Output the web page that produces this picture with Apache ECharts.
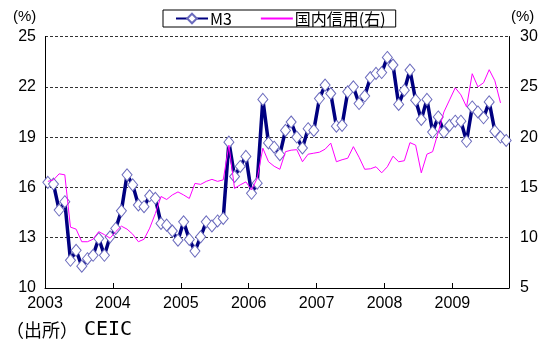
<!DOCTYPE html>
<html><head><meta charset="utf-8">
<script src="https://cdn.jsdelivr.net/npm/echarts@6/dist/echarts.min.js"></script>
<style>html,body{margin:0;padding:0;background:#fff}#c{width:547px;height:347px}</style>
</head><body><div id="c"></div>
<script>
// Monthly data, Jan 2003 onward
const yearLabels = ['2003','2004','2005','2006','2007','2008','2009'];
// M3 growth (%, left axis), Jan 2003 - Oct 2009
const m3 = [
  16.3,16.2,14.65,15.15,11.65,12.25,11.3,11.75,11.95,12.95,11.95,13.05,
  13.55,14.6,16.75,16.15,14.95,14.85,15.5,15.35,13.85,13.75,13.4,12.85,
  13.95,12.9,12.2,13.05,13.95,13.7,14.0,14.15,18.7,16.65,17.25,17.85,
  15.65,16.25,21.25,18.65,18.4,17.95,19.4,19.9,19.0,18.35,19.5,19.4,
  21.3,22.1,21.6,19.65,19.7,21.7,22.0,21.0,21.45,22.55,22.8,22.85,
  23.75,23.3,20.95,21.8,23.0,21.2,20.05,21.25,19.3,20.2,19.3,19.7,
  19.95,19.95,18.75,20.8,20.5,20.15,21.1,19.35,19.0,18.8
];
// Domestic credit growth (%, right axis), Jan 2003 - Sep 2009
const credit = [
  15.6,15.75,16.35,16.25,11.05,10.85,9.6,9.6,9.85,10.6,10.3,9.95,
  10.6,11.15,10.85,10.35,9.6,9.85,10.95,12.4,14.1,13.8,14.25,14.55,
  14.25,13.9,15.4,15.3,15.6,15.8,15.6,15.75,19.2,14.9,15.25,15.55,
  14.75,15.9,18.9,17.55,17.1,16.8,18.55,18.7,18.75,17.55,18.3,18.4,
  18.5,18.8,19.4,17.55,17.75,17.9,19.05,18.0,16.8,16.85,17.05,16.45,
  17.05,18.1,17.55,17.65,19.45,19.2,16.45,18.3,18.55,20.5,22.5,23.7,
  24.9,24.2,23.0,26.3,25.0,25.4,26.7,25.6,23.4
];
const seriesNames = ['M3','国内信用(右)'];
const totalMonths = m3.length;

const numFont = "'Liberation Sans Narrow','Arial Narrow',sans-serif";
const chart = echarts.init(document.getElementById('c'), null, {renderer:'canvas'});
chart.setOption({
  animation:false,
  backgroundColor:'#fff',
  grid:{left:45,right:38,top:36.5,bottom:59},
  legend:{
    left:163, top:10,
    orient:'horizontal',
    data:[{name:seriesNames[0]}, {name:seriesNames[1], itemStyle:{opacity:0}}],
    borderColor:'#000', borderWidth:1,
    padding:[0,10,0,12],
    itemGap:28, itemWidth:32, itemHeight:12,
    textStyle:{fontSize:16, lineHeight:17, color:'#000', fontFamily:"'Noto Sans CJK JP',sans-serif", padding:[0,0,0,-3]}
  },
  xAxis:{
    type:'value', min:0, max:totalMonths, interval:12,
    axisLine:{lineStyle:{color:'#000',width:1}},
    axisTick:{inside:true,length:5,lineStyle:{color:'#000'}},
    splitLine:{show:false},
    axisLabel:{
      formatter:function(v){return (v%12===0 && v/12<yearLabels.length)?yearLabels[v/12]:'';},
      fontSize:16, fontFamily:numFont, color:'#000', margin:8
    }
  },
  yAxis:[
    {type:'value', min:10, max:25, interval:3, position:'left',
     axisLine:{show:true,lineStyle:{color:'#000'}}, axisTick:{show:false},
     splitLine:{show:true,lineStyle:{type:[3,2],color:'#333',width:1}},
     axisLabel:{fontSize:16, fontFamily:numFont, color:'#000', margin:9}},
    {type:'value', min:5, max:30, interval:5, position:'right',
     axisLine:{show:true,lineStyle:{color:'#000'}}, axisTick:{show:false},
     splitLine:{show:false},
     axisLabel:{fontSize:16, fontFamily:numFont, color:'#000', margin:11}}
  ],
  series:[
    {name:seriesNames[0], type:'line', yAxisIndex:0,
     data:m3.map(function(v,i){return [i+0.5,v];}),
     symbol:'diamond', symbolSize:[10,12], showAllSymbol:true,
     itemStyle:{color:'#fff', borderColor:'#6b6bbd', borderWidth:1},
     lineStyle:{color:'#000080', width:3.5}, z:2},
    {name:seriesNames[1], type:'line', yAxisIndex:1,
     data:credit.map(function(v,i){return [i+0.5,v];}),
     symbol:'none',
     itemStyle:{color:'#ff00ff'},
     lineStyle:{color:'#ff00ff', width:1}, z:3}
  ],
  graphic:[
    {type:'text', left:13, top:9, style:{text:'(%)', fontSize:15, fontFamily:numFont, fill:'#000'}},
    {type:'text', left:511, top:9, style:{text:'(%)', fontSize:15, fontFamily:numFont, fill:'#000'}},
    {type:'text', left:6, top:320, style:{
      text:'{a|（出所）}{b|CEIC}',
      rich:{
        a:{fontSize:18, fontFamily:"'Noto Sans CJK JP',sans-serif", fill:'#000', color:'#000'},
        b:{fontSize:20, fontFamily:"'DejaVu Sans Mono',monospace", fill:'#000', color:'#000', padding:[0,0,0,6]}
      }
    }}
  ]
});
</script></body></html>
